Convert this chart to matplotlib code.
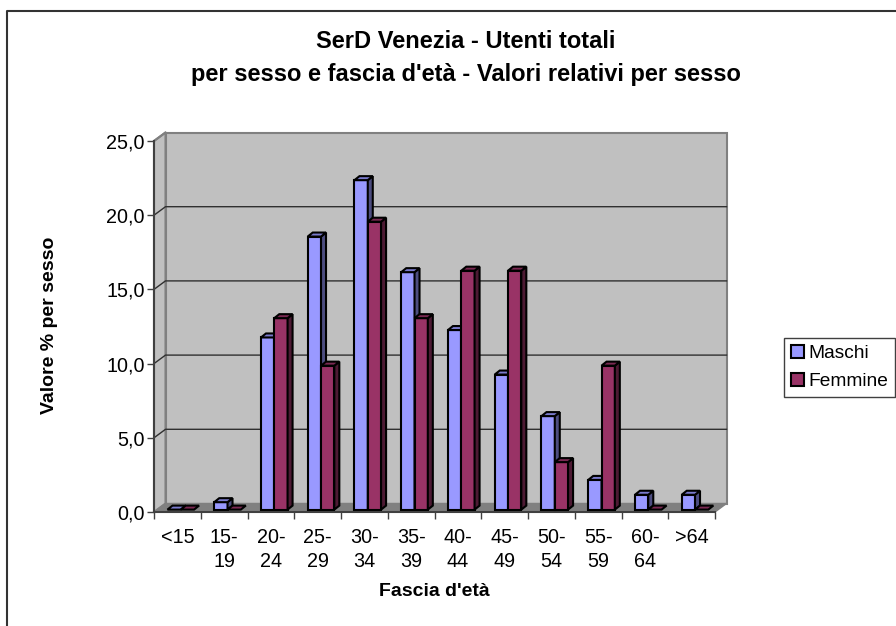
import numpy as np
from matplotlib import pyplot as plt
from matplotlib.lines import Line2D
from matplotlib.patches import Patch, Polygon

fasce = ['<15', '15-\n19', '20-\n24', '25-\n29', '30-\n34', '35-\n39',
         '40-\n44', '45-\n49', '50-\n54', '55-\n59', '60-\n64', '>64']
maschi = [0.0, 0.5, 11.6, 18.4, 22.2, 16.0, 12.1, 9.1, 6.3, 2.0, 1.0, 1.0]
femmine = [0.0, 0.0, 12.9, 9.7, 19.4, 12.9, 16.1, 16.1, 3.2, 9.7, 0.0, 0.0]
y_ticks = [0, 5, 10, 15, 20, 25]
y_labels = ['0,0', '5,0', '10,0', '15,0', '20,0', '25,0']

W, H = 896, 626
X0, X1, Y0, Y1 = 154, 715, 512, 141
PX = 12 / (X1 - X0)
PY = 25 / (Y0 - Y1)

GREY = '#c0c0c0'
DARK = '#404040'


def px_x(x):
    return x / W


def px_y(y):
    return 1 - y / H


def draw_bar(ax, x, width, value, front, side, top, z):
    # front face comes from the bar call, top and side are sheared polygons
    dx = 5 * PX
    dy = 4 * PY
    base = 2.4 * PY
    shift = 3.4 * PX
    left = x + shift
    right = left + width
    high = value + base
    if value > 0:
        ax.bar(left, value, width, bottom=base, align='edge', color=front,
               edgecolor='black', linewidth=1.5, zorder=z, clip_on=False)
        ax.add_patch(Polygon([(right, base), (right + dx, base + dy),
                              (right + dx, high + dy), (right, high)],
                             facecolor=side, edgecolor='black', linewidth=1.5,
                             zorder=z, clip_on=False))
    ax.add_patch(Polygon([(left, high), (right, high),
                          (right + dx, high + dy), (left + dx, high + dy)],
                         facecolor=top, edgecolor='black', linewidth=1.5,
                         zorder=z, clip_on=False))


def main():
    plt.rcParams['font.family'] = ['Liberation Sans', 'DejaVu Sans']

    fig = plt.figure(figsize=(W / 100, H / 100), dpi=100, facecolor='white')
    ax = fig.add_axes([px_x(X0), px_y(Y0), (X1 - X0) / W, (Y0 - Y1) / H])
    ax.set_xlim(0, 12)
    ax.set_ylim(0, 25)
    ax.patch.set_visible(False)
    for spine in ['top', 'right']:
        ax.spines[spine].set_visible(False)
    for spine in ['left', 'bottom']:
        ax.spines[spine].set_color(DARK)
        ax.spines[spine].set_linewidth(1.5)
        ax.spines[spine].set_zorder(20)

    # walls and floor of the 3d box
    wx = 11.5 * PX
    wy = 8.5 * PY
    ax.add_patch(Polygon([(wx, wy), (12 + wx, wy), (12 + wx, 25 + wy), (wx, 25 + wy)],
                         facecolor=GREY, edgecolor='#808080', linewidth=1.5,
                         zorder=1, clip_on=False))
    ax.add_patch(Polygon([(0, 0), (wx, wy), (wx, 25 + wy), (0, 25)],
                         facecolor=GREY, edgecolor='#808080', linewidth=1.5,
                         zorder=1, clip_on=False))
    ax.add_patch(Polygon([(0, 0), (12, 0), (12 + wx, wy), (wx, wy)],
                         facecolor='#808080', edgecolor='#808080', linewidth=1,
                         zorder=2, clip_on=False))
    for v in y_ticks[1:-1]:
        ax.plot([0, wx, 12 + wx], [v, v + wy, v + wy], color='#303030',
                linewidth=1, zorder=2, clip_on=False)
    ax.plot([0, wx], [25, 25 + wy], color='#808080', linewidth=1.5, zorder=2, clip_on=False)

    width = 13.3 * PX
    gap = (1 - 2 * width) / 2
    for i in range(len(fasce)):
        draw_bar(ax, i + gap, width, maschi[i], '#9999ff', '#4d4d80', '#7a7acc', 5 + 2 * i)
        draw_bar(ax, i + gap + width, width, femmine[i], '#993366', '#4d1a33', '#7a2952', 6 + 2 * i)

    ax.set_yticks(y_ticks)
    ax.set_yticklabels(y_labels)
    ax.set_xticks(np.arange(13))
    ax.set_xticklabels([])
    ax.set_xticks(np.arange(12) + 0.5, minor=True)
    ax.set_xticklabels(fasce, minor=True, linespacing=1.33)
    ax.tick_params(axis='x', which='major', length=5, width=1, color=DARK)
    ax.tick_params(axis='x', which='minor', length=0, pad=11.5, labelsize=14.2)
    ax.tick_params(axis='y', length=5, width=1, color=DARK, pad=1.5, labelsize=14.2)

    fig.text(px_x(466), px_y(41.5), 'SerD Venezia - Utenti totali', ha='center', va='center',
             fontsize=17, fontweight='bold')
    fig.text(px_x(466), px_y(74), "per sesso e fascia d'età - Valori relativi per sesso",
             ha='center', va='center', fontsize=17, fontweight='bold')
    fig.text(px_x(434.5), px_y(592), "Fascia d'età", ha='center', va='center',
             fontsize=14, fontweight='bold')
    fig.text(px_x(50), px_y(325), 'Valore % per sesso', ha='center', va='center',
             rotation=90, fontsize=14, fontweight='bold')

    # fragment of the page text above the chart frame
    fig.text(px_x(443), px_y(-6), 'p', ha='center', va='baseline', fontsize=13,
             family='Liberation Serif')

    fig.add_artist(Line2D([px_x(7), px_x(7), 1], [px_y(625), px_y(11), px_y(11)],
                          color='#333333', linewidth=1.5))

    handles = [Patch(facecolor='#9999ff', edgecolor='black', linewidth=1.5, label='Maschi'),
               Patch(facecolor='#993366', edgecolor='black', linewidth=1.5, label='Femmine')]
    fig.legend(handles=handles, loc='upper left',
               bbox_to_anchor=(px_x(784), px_y(338)), fontsize=13.8,
               fancybox=False, framealpha=1, edgecolor=DARK,
               handlelength=0.7, handleheight=0.7, handletextpad=0.2,
               labelspacing=0.55, borderpad=0.35, borderaxespad=0)

    fig.savefig('out.png', dpi=100)
    plt.close(fig)


if __name__ == '__main__':
    main()
